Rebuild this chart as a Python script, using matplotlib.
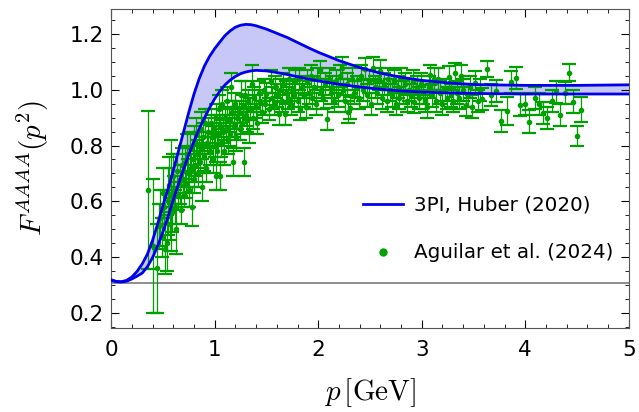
import numpy as np
import matplotlib
matplotlib.use("Agg")
import matplotlib.pyplot as plt

plt.rcParams['mathtext.fontset'] = 'cm'

# 3PI band (upper / lower edge)
p_band = [0.0, 0.05, 0.1, 0.15, 0.2, 0.25, 0.3, 0.35, 0.4, 0.45, 0.5, 0.55, 0.6, 0.65,
          0.7, 0.75, 0.8, 0.85, 0.9, 0.95, 1.0, 1.05, 1.1, 1.15, 1.2, 1.25, 1.3, 1.35,
          1.4, 1.5, 1.6, 1.7, 1.8, 1.9, 2.0, 2.2, 2.4, 2.6, 2.8, 3.0, 3.25, 3.5, 4.0,
          4.5, 5.0]
band_hi = [0.318, 0.312, 0.311, 0.316, 0.328, 0.348, 0.375, 0.41, 0.46, 0.52, 0.585,
           0.645, 0.71, 0.78, 0.85, 0.92, 0.985, 1.04, 1.085, 1.12, 1.148, 1.172, 1.195,
           1.212, 1.225, 1.232, 1.235, 1.234, 1.23, 1.218, 1.203, 1.188, 1.17, 1.152,
           1.135, 1.105, 1.08, 1.06, 1.045, 1.034, 1.025, 1.019, 1.016, 1.016, 1.018]
band_lo = [0.316, 0.311, 0.310, 0.313, 0.321, 0.331, 0.342, 0.365, 0.398, 0.44, 0.49,
           0.545, 0.605, 0.662, 0.716, 0.768, 0.815, 0.86, 0.898, 0.935, 0.968, 0.995,
           1.018, 1.035, 1.048, 1.058, 1.064, 1.068, 1.07, 1.068, 1.062, 1.055, 1.047,
           1.039, 1.032, 1.02, 1.01, 1.002, 0.996, 0.992, 0.989, 0.987, 0.985, 0.985,
           0.985]

# Aguilar et al. (2024) lattice points: p, F, error
p_data = [0.36, 0.40, 0.44, 0.46, 0.47, 0.49, 0.50, 0.51, 0.52, 0.54, 0.55, 0.56, 0.57,
          0.58, 0.59, 0.60, 0.61, 0.62, 0.63, 0.64, 0.65, 0.66, 0.67, 0.68, 0.69, 0.70,
          0.71, 0.72, 0.73, 0.74, 0.75, 0.76, 0.77, 0.78, 0.79, 0.80, 0.80, 0.81, 0.82,
          0.83, 0.84, 0.85, 0.86, 0.87, 0.88, 0.88, 0.89, 0.90, 0.91, 0.92, 0.93, 0.94,
          0.95, 0.96, 0.97, 0.98, 0.99, 1.00, 1.01, 1.01, 1.02,
          1.03, 1.04, 1.05, 1.05, 1.06, 1.07, 1.08, 1.09, 1.10, 1.11, 1.12, 1.13, 1.14,
          1.15, 1.16, 1.17, 1.18, 1.19, 1.20, 1.21, 1.22, 1.23, 1.24, 1.25, 1.26, 1.27,
          1.28, 1.29, 1.30, 1.31, 1.32, 1.33, 1.34, 1.36, 1.37, 1.38, 1.40, 1.41, 1.43,
          1.44, 1.46, 1.48, 1.49,
          1.50, 1.52, 1.54, 1.55, 1.57, 1.58, 1.60, 1.62, 1.63, 1.65, 1.66, 1.68, 1.69,
          1.71, 1.72, 1.74, 1.75, 1.77, 1.78, 1.80, 1.81, 1.82, 1.84, 1.86, 1.88, 1.89,
          1.91, 1.93, 1.94, 1.96, 1.98, 1.99,
          2.02, 2.03, 2.05, 2.07, 2.08, 2.10, 2.12, 2.13, 2.15, 2.17, 2.19, 2.21, 2.23,
          2.24, 2.26, 2.28, 2.29, 2.31, 2.33, 2.35, 2.37, 2.39, 2.41, 2.43, 2.45, 2.47,
          2.49, 2.51, 2.53, 2.55, 2.57, 2.59, 2.60, 2.62, 2.64, 2.66, 2.67, 2.69, 2.71,
          2.73, 2.75, 2.77, 2.78, 2.80, 2.82, 2.84, 2.86, 2.88, 2.90, 2.92, 2.93, 2.95,
          2.97, 2.99,
          3.01, 3.03, 3.05, 3.07, 3.08, 3.10, 3.12, 3.14, 3.16, 3.18, 3.20, 3.22, 3.24,
          3.26, 3.28, 3.30, 3.32, 3.34, 3.36, 3.38, 3.40, 3.43, 3.45, 3.47, 3.49, 3.51,
          3.54, 3.56, 3.58,
          3.63, 3.67, 3.72, 3.77, 3.82, 3.86, 3.91, 3.95, 4.00, 4.04, 4.09, 4.13, 4.17,
          4.21, 4.26, 4.30, 4.34, 4.38, 4.42, 4.46, 4.50, 4.54]
f_data = [0.64, 0.44, 0.36, 0.51, 0.54, 0.47, 0.63, 0.58, 0.43, 0.45, 0.60, 0.66, 0.52,
          0.62, 0.56, 0.69, 0.64, 0.58, 0.50, 0.71, 0.62, 0.66, 0.57, 0.73, 0.68, 0.63,
          0.74, 0.66, 0.77, 0.70, 0.64, 0.79, 0.72, 0.58, 0.75, 0.81, 0.68, 0.73, 0.84,
          0.77, 0.70, 0.80, 0.74, 0.86, 0.65, 0.79, 0.83, 0.76, 0.88, 0.72, 0.81, 0.85,
          0.78, 0.88, 0.83, 0.75, 0.86, 0.80, 0.69, 0.90, 0.78,
          0.84, 0.93, 0.69, 0.87, 0.81, 0.95, 0.85, 0.78, 0.90, 0.86, 0.96, 0.82, 0.89,
          0.84, 1.01, 0.92, 0.74, 0.87, 0.95, 0.83, 0.90, 0.92, 0.86, 0.98, 0.88, 0.94,
          0.74, 0.98, 0.91, 0.89, 0.96, 0.85, 0.93, 1.02, 0.90, 0.97, 0.94, 0.88, 0.99,
          0.96, 0.92, 1.00, 0.95,
          0.985, 0.93, 1.03, 0.97, 0.95, 1.01, 0.98, 0.915, 1.00, 0.96, 1.02, 0.915, 0.99,
          0.97, 1.04, 0.95, 1.00, 0.98, 1.03, 0.96, 1.04, 0.93, 1.01, 0.98, 0.94, 1.03,
          0.99, 1.05, 0.97, 1.01, 0.95, 1.04,
          1.07, 1.00, 0.97, 1.02, 0.895, 1.04, 0.99, 1.01, 0.96, 1.03, 0.98, 1.05, 1.078,
          1.00, 0.96, 1.02, 0.92, 0.935, 1.04, 0.99, 1.01, 0.97, 1.05, 1.00, 1.075, 0.98,
          1.03, 0.95, 1.078, 1.01, 0.99, 1.04, 1.066, 0.97, 1.02, 0.96, 1.038, 1.00, 0.98,
          1.03, 0.95, 1.01, 0.97, 1.04, 0.99, 1.02, 0.96, 1.00, 0.98, 1.03, 0.958, 1.01,
          0.97, 1.02,
          0.99, 0.96, 0.94, 1.01, 1.053, 0.98, 1.04, 0.96, 1.038, 0.99, 0.95, 1.00, 0.97,
          1.047, 0.98, 0.96, 1.062, 0.99, 0.97, 1.05, 1.00, 0.946, 0.98, 1.01, 0.94, 1.026,
          0.96, 1.00, 0.966,
          1.075, 0.982, 0.997, 0.889, 0.924, 1.027, 1.042, 0.945, 0.95, 0.886, 0.97, 0.948,
          0.918, 0.898, 0.96, 0.991, 0.91, 0.988, 1.062, 0.958, 0.834, 0.928]
f_err = [0.285, 0.24, 0.16, 0.08, 0.10, 0.07, 0.09, 0.06, 0.09, 0.10, 0.12, 0.10, 0.06,
         0.20, 0.07, 0.08, 0.05, 0.06, 0.09, 0.06, 0.05, 0.07, 0.05, 0.06, 0.05, 0.05,
         0.06, 0.05, 0.07, 0.05, 0.06, 0.06, 0.05, 0.07, 0.05, 0.06, 0.05, 0.04, 0.06,
         0.05, 0.05, 0.05, 0.04, 0.06, 0.05, 0.04, 0.05, 0.05, 0.05, 0.05, 0.04, 0.05,
         0.05, 0.05, 0.04, 0.05, 0.05, 0.04, 0.05, 0.05, 0.05,
         0.04, 0.05, 0.05, 0.04, 0.05, 0.05, 0.04, 0.05, 0.04, 0.04, 0.05, 0.05, 0.04,
         0.04, 0.05, 0.04, 0.05, 0.04, 0.04, 0.05, 0.04, 0.04, 0.04, 0.05, 0.04, 0.04,
         0.05, 0.05, 0.04, 0.04, 0.04, 0.04, 0.04, 0.07, 0.04, 0.04, 0.04, 0.04, 0.04,
         0.04, 0.04, 0.04, 0.04,
         0.04, 0.04, 0.04, 0.04, 0.04, 0.04, 0.04, 0.04, 0.04, 0.04, 0.04, 0.04, 0.04,
         0.04, 0.04, 0.04, 0.04, 0.04, 0.04, 0.04, 0.04, 0.04, 0.04, 0.04, 0.04, 0.04,
         0.04, 0.04, 0.04, 0.04, 0.04, 0.04,
         0.032, 0.04, 0.04, 0.04, 0.038, 0.04, 0.04, 0.04, 0.04, 0.04, 0.04, 0.04, 0.04,
         0.04, 0.04, 0.04, 0.04, 0.04, 0.04, 0.04, 0.04, 0.04, 0.04, 0.04, 0.04, 0.04,
         0.04, 0.04, 0.04, 0.04, 0.04, 0.04, 0.04, 0.04, 0.04, 0.04, 0.04, 0.04, 0.04,
         0.04, 0.04, 0.04, 0.04, 0.04, 0.04, 0.04, 0.04, 0.04, 0.04, 0.04, 0.04, 0.04,
         0.04, 0.04,
         0.04, 0.04, 0.04, 0.04, 0.035, 0.04, 0.04, 0.04, 0.04, 0.04, 0.04, 0.04, 0.04,
         0.04, 0.04, 0.04, 0.035, 0.04, 0.04, 0.04, 0.04, 0.04, 0.04, 0.04, 0.04, 0.04,
         0.04, 0.04, 0.04,
         0.03, 0.04, 0.04, 0.04, 0.05, 0.04, 0.04, 0.04, 0.04, 0.04, 0.04, 0.04, 0.04,
         0.04, 0.04, 0.04, 0.04, 0.04, 0.03, 0.04, 0.035, 0.045]

f_ref = 0.305  # horizontal reference line

green = '#00a000'
blue = '#0000ee'

fig = plt.figure(figsize=(6.39, 4.12), dpi=100)
ax = fig.add_axes([0.174, 0.204, 0.81, 0.774])

ax.axhline(f_ref, color='#7a7a7a', lw=1.2, zorder=1)

eb = ax.errorbar(p_data, f_data, yerr=f_err, fmt='o', ms=3.0, color=green,
                 ecolor=green, elinewidth=0.9, capsize=4.8, capthick=1.6, zorder=2)
for cap in eb[1]:
    cap.set_color((0.0, 0.65, 0.0, 0.45))

ax.fill_between(p_band, band_lo, band_hi, color='#c8c8f8', lw=0, zorder=0)
ax.plot(p_band, band_hi, color=blue, lw=2.0, zorder=3)
ax.plot(p_band, band_lo, color=blue, lw=2.0, zorder=3)

h_line, = ax.plot([], [], color=blue, lw=2.0)
h_dot, = ax.plot([], [], 'o', color=green, ms=5)
ax.legend([h_line, h_dot], ['3PI, Huber (2020)', 'Aguilar et al. (2024)'],
          loc='center right', bbox_to_anchor=(0.985, 0.31), frameon=False,
          fontsize=14.3, labelspacing=1.45, handlelength=2.0, handletextpad=0.55,
          borderaxespad=0.0)

ax.set_xlim(0, 5)
ax.set_ylim(0.145, 1.29)
ax.set_xticks([0, 1, 2, 3, 4, 5])
ax.set_yticks([0.2, 0.4, 0.6, 0.8, 1.0, 1.2])
ax.set_xticks(np.arange(0, 5.01, 0.2), minor=True)
ax.set_yticks(np.arange(0.15, 1.29, 0.05), minor=True)
ax.tick_params(which='both', direction='in', top=True, right=True, labelsize=15.5)
ax.tick_params(which='major', length=6)
ax.tick_params(which='minor', length=3)
ax.tick_params(axis='x', which='major', pad=9)
ax.tick_params(axis='y', which='major', pad=5)
for s in ax.spines.values():
    s.set_color('#555555')

ax.set_xlabel(r'$p\,[\mathrm{GeV}]$', fontsize=21, labelpad=11)
ax.set_ylabel(r'$F^{AAAA}(p^2)$', fontsize=21, labelpad=14)

fig.savefig('out.png', dpi=100)
